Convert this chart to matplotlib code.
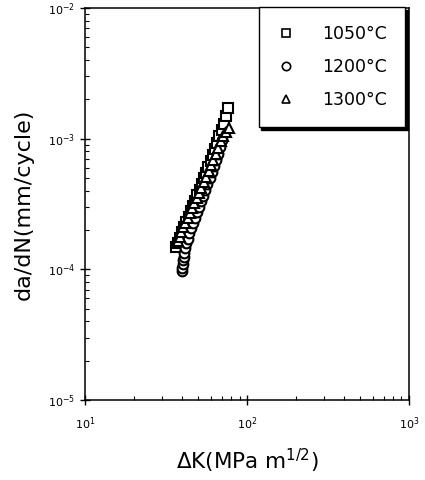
import matplotlib
matplotlib.use("Agg")
import matplotlib.pyplot as plt

plt.rcParams['font.family'] = ['DejaVu Sans']
plt.rcParams['mathtext.fontset'] = 'dejavusans'

# 1050 C
dk_1050 = [36.5, 37.5, 38.6, 39.8, 41.0, 42.3, 43.6, 45.0, 46.4, 47.9, 49.4, 51.0, 52.6,
           54.3, 56.0, 57.8, 59.6, 61.5, 63.5, 65.5, 67.6, 69.8, 72.0, 74.2, 76.4]
da_1050 = [1.47e-4, 1.60e-4, 1.75e-4, 1.92e-4, 2.10e-4, 2.30e-4, 2.52e-4, 2.78e-4, 3.05e-4,
           3.35e-4, 3.70e-4, 4.08e-4, 4.50e-4, 4.98e-4, 5.50e-4, 6.10e-4, 6.75e-4, 7.50e-4,
           8.35e-4, 9.30e-4, 1.04e-3, 1.16e-3, 1.30e-3, 1.48e-3, 1.73e-3]
# 1200 C
dk_1200 = [39.7, 39.9, 40.1, 40.4, 40.7, 41.1, 41.6, 42.2, 43.0, 43.9, 45.0, 46.2, 47.5,
           48.9, 50.4, 52.0, 53.6, 55.3, 57.0, 58.8, 60.7, 62.6, 64.6, 66.6, 68.5, 70.2]
da_1200 = [9.7e-5, 1.03e-4, 1.10e-4, 1.17e-4, 1.25e-4, 1.34e-4, 1.45e-4, 1.58e-4, 1.72e-4,
           1.88e-4, 2.06e-4, 2.26e-4, 2.48e-4, 2.73e-4, 3.00e-4, 3.32e-4, 3.67e-4, 4.06e-4,
           4.50e-4, 5.00e-4, 5.55e-4, 6.18e-4, 6.90e-4, 7.70e-4, 8.70e-4, 9.80e-4]
# 1300 C
dk_1300 = [37.5, 38.4, 39.4, 40.5, 41.7, 43.0, 44.4, 45.9, 47.4, 49.0, 50.7, 52.4, 54.2,
           56.1, 58.0, 60.0, 62.1, 64.3, 66.6, 69.0, 71.5, 74.2, 77.4]
da_1300 = [1.64e-4, 1.78e-4, 1.93e-4, 2.10e-4, 2.28e-4, 2.48e-4, 2.70e-4, 2.95e-4, 3.22e-4,
           3.52e-4, 3.86e-4, 4.23e-4, 4.65e-4, 5.12e-4, 5.65e-4, 6.25e-4, 6.92e-4, 7.68e-4,
           8.55e-4, 9.55e-4, 1.05e-3, 1.13e-3, 1.21e-3]

labels = ["1050°C", "1200°C", "1300°C"]

fig = plt.figure(figsize=(4.25, 4.8), dpi=100)
ax = fig.add_axes([0.2, 0.167, 0.762, 0.816])

kw = dict(linestyle="none", markerfacecolor="white", markeredgecolor="black",
          markersize=7, markeredgewidth=1.5)
ax.plot(dk_1050, da_1050, marker="s", label=labels[0], **kw)
ax.plot(dk_1200, da_1200, marker="o", label=labels[1], **kw)
ax.plot(dk_1300, da_1300, marker="^", label=labels[2], **kw)

ax.set_xscale("log")
ax.set_yscale("log")
ax.set_xlim(10, 1000)
ax.set_ylim(1e-5, 1e-2)

ax.tick_params(which="major", direction="inout", length=7, width=1, labelsize=8)
ax.tick_params(which="minor", direction="in", length=3, width=0.8)
for s in ax.spines.values():
    s.set_linewidth(1.1)
ax.tick_params(axis="x", pad=8)

ax.set_xlabel(r"$\Delta$K(MPa m$^{1/2}$)", fontsize=15.5, labelpad=10)
ax.set_ylabel("da/dN(mm/cycle)", fontsize=16, labelpad=10)

leg = ax.legend(loc="upper right", bbox_to_anchor=(0.988, 1.003), borderaxespad=0,
                fontsize=12.5, frameon=True, fancybox=False, edgecolor="black",
                shadow={"color": "black", "alpha": 1}, handlelength=1.0,
                handletextpad=1.6, labelspacing=0.85, borderpad=1.05)
leg.get_frame().set_linewidth(1.0)
for h in leg.legend_handles:
    h.set_markersize(6)
    h.set_markeredgewidth(1.2)

fig.savefig("out.png", dpi=100)
